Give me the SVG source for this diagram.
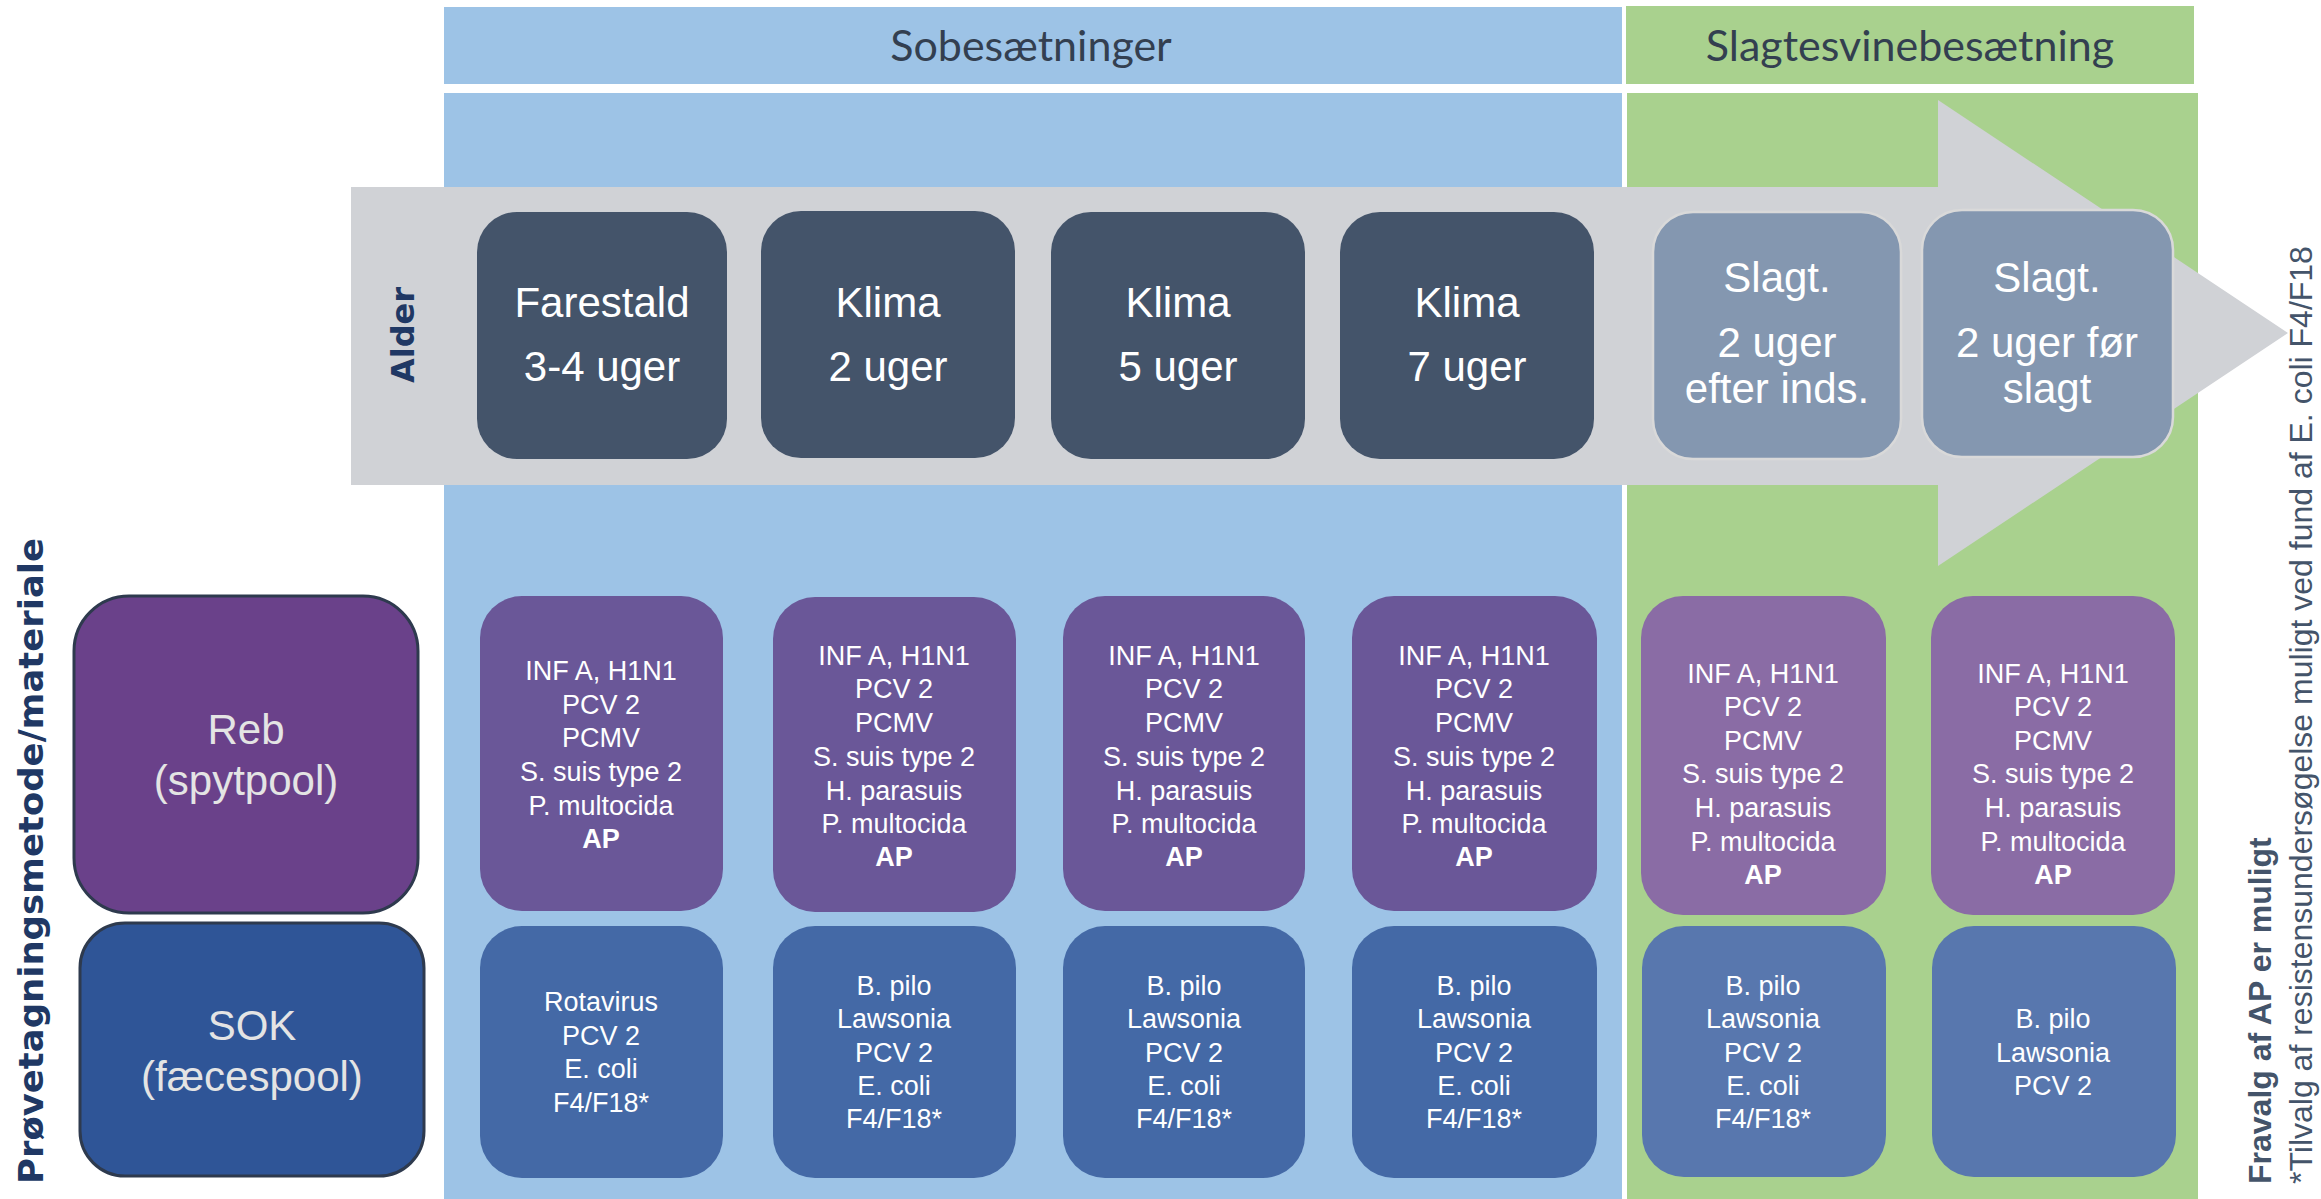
<svg xmlns="http://www.w3.org/2000/svg" width="2321" height="1199" viewBox="0 0 2321 1199">
<style>
.hdr{font-family:Lato,"Open Sans",sans-serif;font-size:43px;fill:#333F50;text-anchor:middle}
.age{font-family:"Liberation Sans",Arial,sans-serif;font-size:42px;fill:#FFFFFF;text-anchor:middle}
.meth{font-family:"Liberation Sans",Arial,sans-serif;font-size:42px;fill:#E4E4E4;text-anchor:middle}
.smp{font-family:"Liberation Sans",Arial,sans-serif;font-size:27px;fill:#FFFFFF;text-anchor:middle}
.b{font-weight:bold}
.vlab{font-family:"DejaVu Sans",Verdana,sans-serif;font-weight:bold;fill:#203864}
.note{font-family:"Liberation Sans",Arial,sans-serif;font-size:32px;fill:#44546A}
.agebox{fill:#44546A}
.slbox{fill:#8497B0;stroke:#D9D9D9;stroke-width:2.5}
.pA{fill:#6A5798}
.bA{fill:#4469A6}
.pB{fill:#8A6CA5}
.bB{fill:#5877AE}
</style>
<rect width="2321" height="1199" fill="#FFFFFF"/>
<g id="panels">
<rect id="hdr-so" x="444" y="7" width="1178" height="77" fill="#9DC3E6"/>
<rect id="hdr-sl" x="1626" y="6" width="568" height="78" fill="#A9D18E"/>
<rect id="panel-so" x="444" y="93" width="1178" height="1106" fill="#9DC3E6"/>
<rect id="panel-sl" x="1627" y="93" width="571" height="1106" fill="#A9D18E"/>
<text class="hdr" x="1031" y="61">Sobesætninger</text>
<text class="hdr" x="1910" y="61">Slagtesvinebesætning</text>
</g>
<g id="connectors">
<path id="age-arrow" d="M351,187 H1938 V100 L2288,333 L1938,566 V485 H351 Z" fill="#D0D2D6"/>
</g>
<text class="vlab" font-size="32" text-anchor="middle" transform="translate(414,335) rotate(-90)">Alder</text>
<g id="age-farestald"><rect class="agebox" x="477" y="212" width="250" height="247" rx="40"/><text class="age"><tspan x="602" y="317">Farestald</tspan><tspan x="602" y="381">3-4 uger</tspan></text></g>
<g id="age-klima2"><rect class="agebox" x="761" y="211" width="254" height="247" rx="40"/><text class="age"><tspan x="888" y="317">Klima</tspan><tspan x="888" y="381">2 uger</tspan></text></g>
<g id="age-klima5"><rect class="agebox" x="1051" y="212" width="254" height="247" rx="40"/><text class="age"><tspan x="1178" y="317">Klima</tspan><tspan x="1178" y="381">5 uger</tspan></text></g>
<g id="age-klima7"><rect class="agebox" x="1340" y="212" width="254" height="247" rx="40"/><text class="age"><tspan x="1467" y="317">Klima</tspan><tspan x="1467" y="381">7 uger</tspan></text></g>
<g id="age-slagt1"><rect class="slbox" x="1653" y="212" width="248" height="247" rx="40"/><text class="age"><tspan x="1777" y="292">Slagt.</tspan><tspan x="1777" y="357">2 uger</tspan><tspan x="1777" y="403">efter inds.</tspan></text></g>
<g id="age-slagt2"><rect class="slbox" x="1922" y="210" width="251" height="247" rx="40"/><text class="age"><tspan x="2047" y="292">Slagt.</tspan><tspan x="2047" y="357">2 uger før</tspan><tspan x="2047" y="403">slagt</tspan></text></g>
<text class="vlab" font-size="34" text-anchor="middle" textLength="646" lengthAdjust="spacingAndGlyphs" transform="translate(43,861) rotate(-90)">Prøvetagningsmetode/materiale</text>
<g id="method-reb"><rect x="74" y="596" width="344" height="317" rx="55" fill="#6A418A" stroke="#2E3A4E" stroke-width="3"/><text class="meth"><tspan x="246" y="744">Reb</tspan><tspan x="246" y="795">(spytpool)</tspan></text></g>
<g id="method-sok"><rect x="80" y="923" width="344" height="253" rx="45" fill="#2F5597" stroke="#2E3A4E" stroke-width="3"/><text class="meth"><tspan x="252" y="1040">SOK</tspan><tspan x="252" y="1091">(fæcespool)</tspan></text></g>
<g id="reb-1"><rect class="pA" x="480" y="596" width="243" height="315" rx="42"/><text class="smp"><tspan x="601" y="680">INF A, H1N1</tspan><tspan x="601" y="714">PCV 2</tspan><tspan x="601" y="747">PCMV</tspan><tspan x="601" y="781">S. suis type 2</tspan><tspan x="601" y="815">P. multocida</tspan><tspan class="b" x="601" y="848">AP</tspan></text></g>
<g id="reb-2"><rect class="pA" x="773" y="597" width="243" height="315" rx="42"/><text class="smp"><tspan x="894" y="665">INF A, H1N1</tspan><tspan x="894" y="698">PCV 2</tspan><tspan x="894" y="732">PCMV</tspan><tspan x="894" y="766">S. suis type 2</tspan><tspan x="894" y="800">H. parasuis</tspan><tspan x="894" y="833">P. multocida</tspan><tspan class="b" x="894" y="866">AP</tspan></text></g>
<g id="reb-3"><rect class="pA" x="1063" y="596" width="242" height="315" rx="42"/><text class="smp"><tspan x="1184" y="665">INF A, H1N1</tspan><tspan x="1184" y="698">PCV 2</tspan><tspan x="1184" y="732">PCMV</tspan><tspan x="1184" y="766">S. suis type 2</tspan><tspan x="1184" y="800">H. parasuis</tspan><tspan x="1184" y="833">P. multocida</tspan><tspan class="b" x="1184" y="866">AP</tspan></text></g>
<g id="reb-4"><rect class="pA" x="1352" y="596" width="245" height="315" rx="42"/><text class="smp"><tspan x="1474" y="665">INF A, H1N1</tspan><tspan x="1474" y="698">PCV 2</tspan><tspan x="1474" y="732">PCMV</tspan><tspan x="1474" y="766">S. suis type 2</tspan><tspan x="1474" y="800">H. parasuis</tspan><tspan x="1474" y="833">P. multocida</tspan><tspan class="b" x="1474" y="866">AP</tspan></text></g>
<g id="reb-5"><rect class="pB" x="1641" y="596" width="245" height="319" rx="42"/><text class="smp"><tspan x="1763" y="683">INF A, H1N1</tspan><tspan x="1763" y="716">PCV 2</tspan><tspan x="1763" y="750">PCMV</tspan><tspan x="1763" y="783">S. suis type 2</tspan><tspan x="1763" y="817">H. parasuis</tspan><tspan x="1763" y="851">P. multocida</tspan><tspan class="b" x="1763" y="884">AP</tspan></text></g>
<g id="reb-6"><rect class="pB" x="1931" y="596" width="244" height="319" rx="42"/><text class="smp"><tspan x="2053" y="683">INF A, H1N1</tspan><tspan x="2053" y="716">PCV 2</tspan><tspan x="2053" y="750">PCMV</tspan><tspan x="2053" y="783">S. suis type 2</tspan><tspan x="2053" y="817">H. parasuis</tspan><tspan x="2053" y="851">P. multocida</tspan><tspan class="b" x="2053" y="884">AP</tspan></text></g>
<g id="sok-1"><rect class="bA" x="480" y="926" width="243" height="252" rx="42"/><text class="smp"><tspan x="601" y="1011">Rotavirus</tspan><tspan x="601" y="1045">PCV 2</tspan><tspan x="601" y="1078">E. coli</tspan><tspan x="601" y="1112">F4/F18*</tspan></text></g>
<g id="sok-2"><rect class="bA" x="773" y="926" width="243" height="252" rx="42"/><text class="smp"><tspan x="894" y="995">B. pilo</tspan><tspan x="894" y="1028">Lawsonia</tspan><tspan x="894" y="1062">PCV 2</tspan><tspan x="894" y="1095">E. coli</tspan><tspan x="894" y="1128">F4/F18*</tspan></text></g>
<g id="sok-3"><rect class="bA" x="1063" y="926" width="242" height="252" rx="42"/><text class="smp"><tspan x="1184" y="995">B. pilo</tspan><tspan x="1184" y="1028">Lawsonia</tspan><tspan x="1184" y="1062">PCV 2</tspan><tspan x="1184" y="1095">E. coli</tspan><tspan x="1184" y="1128">F4/F18*</tspan></text></g>
<g id="sok-4"><rect class="bA" x="1352" y="926" width="245" height="252" rx="42"/><text class="smp"><tspan x="1474" y="995">B. pilo</tspan><tspan x="1474" y="1028">Lawsonia</tspan><tspan x="1474" y="1062">PCV 2</tspan><tspan x="1474" y="1095">E. coli</tspan><tspan x="1474" y="1128">F4/F18*</tspan></text></g>
<g id="sok-5"><rect class="bB" x="1642" y="926" width="244" height="251" rx="42"/><text class="smp"><tspan x="1763" y="995">B. pilo</tspan><tspan x="1763" y="1028">Lawsonia</tspan><tspan x="1763" y="1062">PCV 2</tspan><tspan x="1763" y="1095">E. coli</tspan><tspan x="1763" y="1128">F4/F18*</tspan></text></g>
<g id="sok-6"><rect class="bB" x="1932" y="926" width="244" height="251" rx="42"/><text class="smp"><tspan x="2053" y="1028">B. pilo</tspan><tspan x="2053" y="1062">Lawsonia</tspan><tspan x="2053" y="1095">PCV 2</tspan></text></g>
<g id="notes">
<text class="note" font-weight="bold" transform="translate(2271,1184) rotate(-90)">Fravalg af AP er muligt</text>
<text class="note" transform="translate(2312,1184) rotate(-90)">*Tilvalg af resistensundersøgelse muligt ved fund af E. coli F4/F18</text>
</g>
</svg>
